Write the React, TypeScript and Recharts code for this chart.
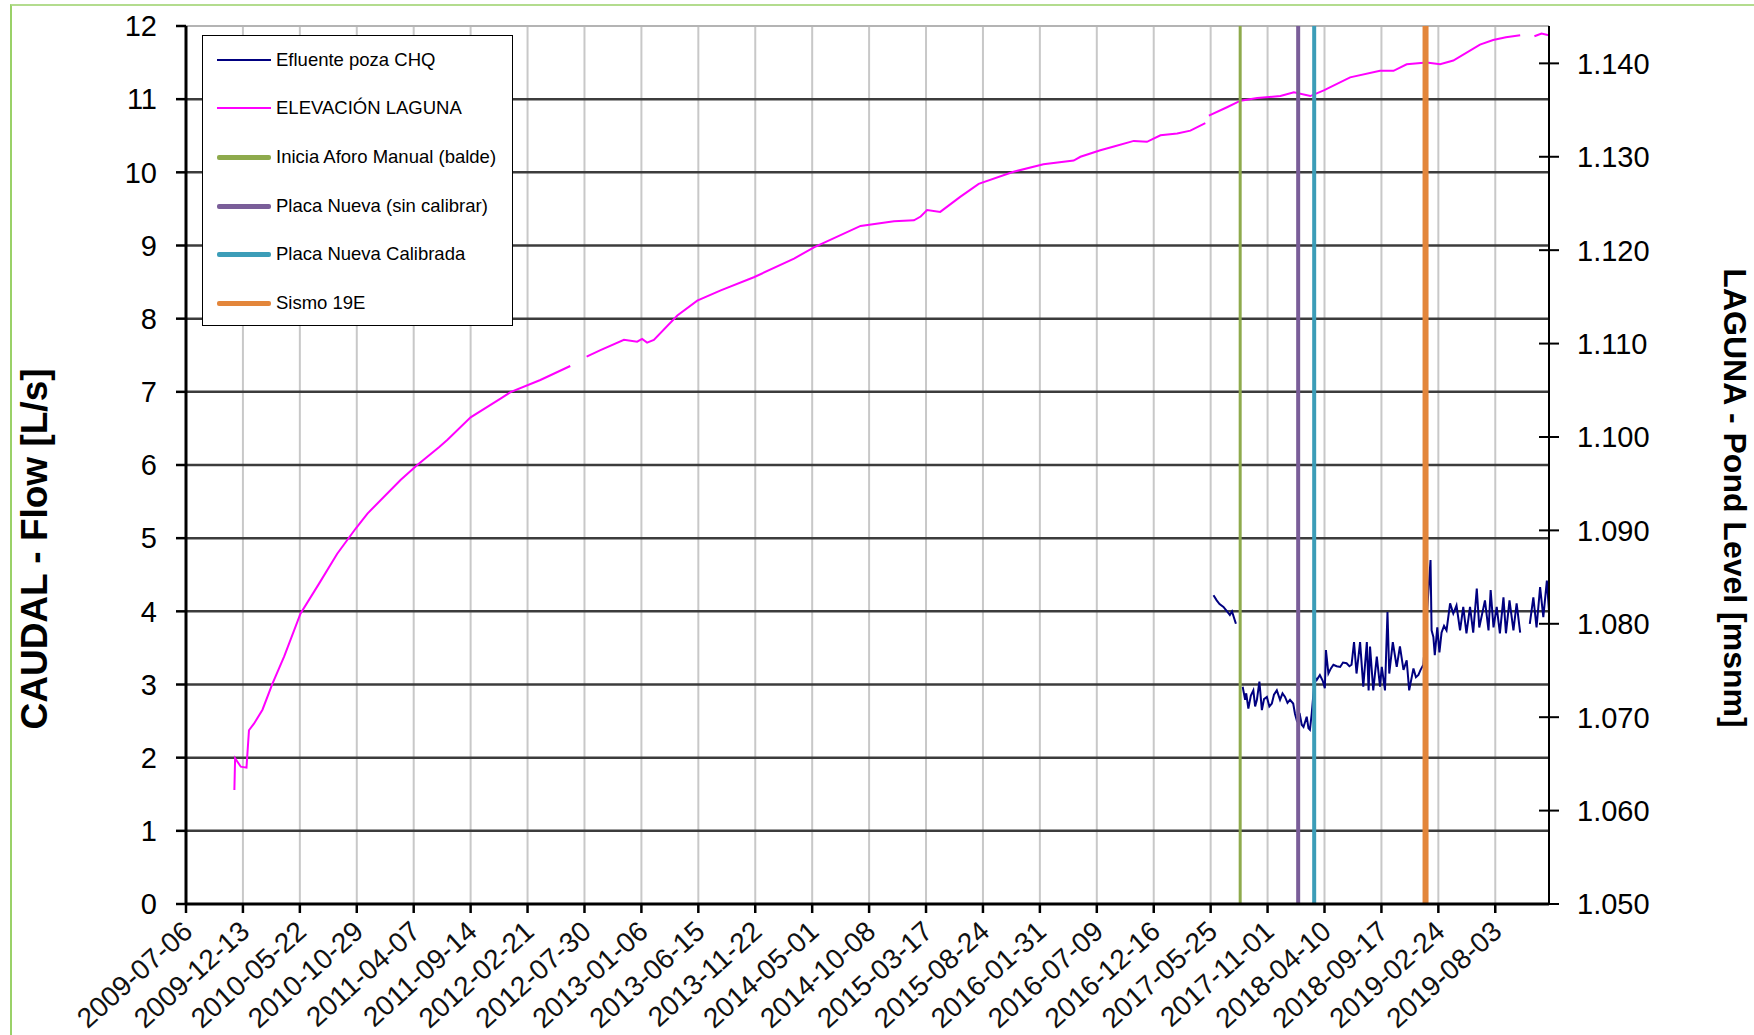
import React from "react";
import { LineChart, Line, XAxis, YAxis, CartesianGrid, ReferenceLine } from "recharts";

// x values are Excel date serials (40000 = 2009-07-06)
const X_TICKS = Array.from({ length: 24 }, (_, i) => 40000 + i * 160);
const FLOW_TICKS = [0, 1, 2, 3, 4, 5, 6, 7, 8, 9, 10, 11, 12];
const LEVEL_TICKS = [1050, 1060, 1070, 1080, 1090, 1100, 1110, 1120, 1130, 1140];

// ELEVACIÓN LAGUNA [msnm]
const levelDay = [
  40136, 40138, 40154, 40170, 40177, 40191, 40215, 40243, 40276, 40322, 40374, 40425, 40477, 40510,
  40603, 40650, 40711, 40735, 40800, 40884, 40912, 40996, 41080, 41100, 41126, 41165, 41231, 41268,
  41282, 41296, 41315, 41381, 41437, 41503, 41596, 41709, 41765, 41896, 41990, 42046, 42065, 42083,
  42120, 42176, 42228, 42326, 42410, 42495, 42514, 42570, 42608, 42664, 42701, 42739, 42786, 42823,
  42865, 42870, 42875, 42926, 42964, 43011, 43076, 43114, 43160, 43198, 43272, 43356, 43394, 43431,
  43487, 43525, 43562, 43637, 43674, 43710, 43750, 43770, 43790, 43810, 43831,
];
const levelMsnm = [
  1062.2, 1065.6, 1064.7, 1064.6, 1068.6, 1069.3, 1070.8, 1073.6, 1076.5, 1081.1, 1084.3, 1087.5, 1090.2, 1091.8,
  1095.4, 1097.0, 1098.9, 1099.7, 1102.1, 1104.1, 1104.8, 1106.1, 1107.6, null, 1108.6, 1109.3, 1110.4, 1110.2,
  1110.5, 1110.1, 1110.4, 1113.0, 1114.6, 1115.7, 1117.1, 1119.1, 1120.3, 1122.6, 1123.1, 1123.2, 1123.6, 1124.3,
  1124.1, 1125.7, 1127.1, 1128.4, 1129.2, 1129.6, 1130.0, 1130.7, 1131.1, 1131.7, 1131.6, 1132.3, 1132.5, 1132.8,
  1133.6, null, 1134.4, 1135.3, 1136.0, 1136.3, 1136.5, 1136.9, 1136.5, 1137.1, 1138.5, 1139.2, 1139.2, 1139.9,
  1140.1, 1139.9, 1140.3, 1142.0, 1142.5, 1142.8, 1143.0, null, 1142.9, 1143.2, 1143.0,
];

// Efluente poza CHQ [L/s]
const flowDay = [
  42888, 42897, 42905, 42916, 42934, 42940, 42951, 42960,
  42970, 42977, 42980, 42986, 42993, 43000, 43005, 43010, 43017, 43024, 43030, 43038, 43045, 43052, 43058,
  43066, 43075, 43082, 43089, 43096, 43103, 43112, 43117, 43122, 43131, 43136, 43141, 43150, 43155, 43159,
  43164, 43173, 43178, 43187, 43195, 43201, 43204, 43211, 43218, 43225, 43234, 43244, 43252, 43262, 43270,
  43276, 43283, 43290, 43300, 43309, 43319, 43324, 43328, 43337, 43347, 43356, 43361, 43370, 43377, 43382,
  43392, 43403, 43412, 43422, 43431, 43438, 43450, 43457, 43464, 43470, 43478, 43498, 43501, 43506, 43510,
  43517, 43523, 43529, 43536, 43543, 43553, 43562, 43571, 43581, 43590, 43599, 43609, 43618, 43628, 43635,
  43645, 43651, 43661, 43667, 43675, 43684, 43693, 43703, 43710, 43720, 43731, 43740, 43750, 43765, 43777,
  43787, 43796, 43806, 43815, 43825, 43831,
];
const flowLps = [
  4.22, 4.15, 4.1, 4.06, 3.95, 4.0, 3.83, null,
  2.97, 2.79, 2.88, 2.67, 2.85, 2.92, 2.7, 2.79, 3.04, 2.65, 2.8, 2.83, 2.7, 2.74, 2.86,
  2.92, 2.79, 2.88, 2.83, 2.75, 2.79, 2.74, 2.6, 2.51, 2.58, 2.45, 2.42, 2.56, 2.4, 2.38,
  2.6, 3.1, 3.06, 3.13, 3.05, 2.95, 3.47, 3.15, 3.22, 3.27, 3.25, 3.24, 3.3, 3.29, 3.25,
  3.27, 3.58, 3.15, 3.58, 2.97, 3.58, 2.92, 3.52, 2.92, 3.38, 2.97, 3.24, 2.92, 3.99, 3.15,
  3.58, 3.24, 3.52, 3.2, 3.33, 2.92, 3.22, 3.1, 3.13, 3.2, 3.27, 4.7, 3.74, 3.65, 3.4,
  3.78, 3.44, 3.71, 3.8, 3.74, 4.11, 3.97, 4.08, 3.74, 4.06, 3.7, 4.06, 3.71, 4.31, 3.78,
  4.01, 4.15, 3.74, 4.29, 3.78, 4.06, 3.7, 4.19, 3.7, 4.15, 3.74, 4.11, 3.71, null, 3.83,
  4.19, 3.78, 4.33, 3.92, 4.42, 4.01,
];

// event markers (vertical lines)
const events = [
  { name: "Inicia Aforo Manual (balde)", day: 42963, color: "#8EAA4C", width: 3 },
  { name: "Placa Nueva (sin calibrar)", day: 43126, color: "#7A5E99", width: 4 },
  { name: "Placa Nueva Calibrada", day: 43171, color: "#3C9DB8", width: 4 },
  { name: "Sismo 19E", day: 43484, color: "#E3863B", width: 6 },
];

const levelData = levelDay.map((t, i) => ({ t, level: levelMsnm[i] }));
const flowData = flowDay.map((t, i) => ({ t, flow: flowLps[i] }));

const FONT = '"Liberation Sans", Arial, sans-serif';
const W = 1754;
const H = 1035;
const PLOT_RIGHT = 1549;

function fmtDate(serial: number) {
  const ms = Date.UTC(1899, 11, 30) + serial * 86400000;
  return new Date(ms).toISOString().slice(0, 10);
}

function fmtLevel(v: number) {
  return Math.floor(v / 1000) + "." + String(v % 1000).padStart(3, "0");
}

const DateTick = (props: any) => {
  const { x, y, payload } = props;
  return (
    <g transform={`translate(${x - 5},${y + 4})`}>
      <text textAnchor="end" transform="rotate(-42)" dy="0.71em" fontSize={28} fill="#111" fontFamily={FONT}>
        {fmtDate(payload.value)}
      </text>
    </g>
  );
};

const LevelTick = (props: any) => {
  const { x, y, payload } = props;
  return (
    <g>
      <line x1={PLOT_RIGHT - 10} x2={PLOT_RIGHT + 10} y1={y} y2={y} stroke="#000" strokeWidth={2} />
      <text x={x} y={y} dy="0.36em" textAnchor="start" fontSize={29} fill="#000" fontFamily={FONT}>
        {fmtLevel(payload.value)}
      </text>
    </g>
  );
};

const legendItems = [
  { name: "Efluente poza CHQ", color: "#000080", width: 2 },
  { name: "ELEVACIÓN LAGUNA", color: "#FF00FF", width: 2 },
  ...events.map(e => ({ name: e.name, color: e.color, width: 5 })),
];

const App: React.FC = () => {
  return (
    <div style={{ position: "absolute", left: 0, top: 0, width: W, height: H, overflow: "hidden", background: "#fff", fontFamily: FONT }}>
      <div style={{ position: "absolute", left: 10, top: 4, width: W - 10, height: H - 4, borderTop: "2px solid #b3dc8e", borderLeft: "2px solid #9ad168", boxSizing: "border-box" }} />
      <div style={{ position: "absolute", left: 0, top: 0 }}>
        <LineChart width={W} height={H} margin={{ top: 26, right: 0, bottom: 0, left: 0 }}>
          <CartesianGrid yAxisId="left" horizontal={false} stroke="#c8c8c8" strokeWidth={2} />
          <CartesianGrid yAxisId="left" vertical={false} horizontalValues={[1, 2, 3, 4, 5, 6, 7, 8, 9, 10, 11]} stroke="#3c3c3c" strokeWidth={2.5} />
          <XAxis
            dataKey="t"
            type="number"
            domain={[40000, 43831]}
            ticks={X_TICKS}
            interval={0}
            allowDataOverflow
            height={131}
            tickSize={9}
            axisLine={{ stroke: "#000", strokeWidth: 3 }}
            tickLine={{ stroke: "#000", strokeWidth: 2.5 }}
            tick={<DateTick />}
          />
          <YAxis
            yAxisId="left"
            domain={[0, 12]}
            ticks={FLOW_TICKS}
            interval={0}
            width={186}
            tickSize={10}
            tickMargin={19}
            axisLine={{ stroke: "#000", strokeWidth: 3 }}
            tickLine={{ stroke: "#000", strokeWidth: 2.5 }}
            tick={{ fill: "#000", fontSize: 29, fontFamily: FONT }}
          />
          <YAxis
            yAxisId="right"
            orientation="right"
            domain={[1050, 1144]}
            ticks={LEVEL_TICKS}
            interval={0}
            allowDataOverflow
            width={205}
            tickSize={10}
            tickMargin={18}
            tickLine={false}
            axisLine={{ stroke: "#000", strokeWidth: 2 }}
            tick={<LevelTick />}
          />
          <ReferenceLine yAxisId="left" y={12} stroke="#b4b4b4" strokeWidth={2} />
          <Line
            yAxisId="right"
            data={levelData}
            dataKey="level"
            type="linear"
            stroke="#FF00FF"
            strokeWidth={2}
            dot={false}
            isAnimationActive={false}
          />
          <Line
            yAxisId="left"
            data={flowData}
            dataKey="flow"
            type="linear"
            stroke="#000080"
            strokeWidth={2}
            dot={false}
            isAnimationActive={false}
          />
          {events.map(e => (
            <ReferenceLine key={e.name} yAxisId="left" x={e.day} stroke={e.color} strokeWidth={e.width} />
          ))}
        </LineChart>
      </div>

      {/* legend box */}
      <div style={{ position: "absolute", left: 202, top: 35, width: 311, height: 291, border: "1.5px solid #000", background: "#fff", boxSizing: "border-box" }}>
        {legendItems.map((it, i) => {
          const cy = [24, 72, 121, 170, 218, 267][i];
          return (
            <div key={it.name} style={{ position: "absolute", left: 14, top: cy - 12, height: 24, display: "flex", alignItems: "center" }}>
              <div style={{ width: 54, height: it.width, background: it.color, borderRadius: it.width > 2 ? 2 : 0 }} />
              <span style={{ marginLeft: 5, fontSize: 18.5, color: "#000", whiteSpace: "nowrap" }}>{it.name}</span>
            </div>
          );
        })}
      </div>

      {/* axis titles */}
      <div style={{ position: "absolute", left: 35, top: 549, transform: "translate(-50%, -50%) rotate(-90deg)", fontSize: 37, fontWeight: "bold", whiteSpace: "nowrap", color: "#000" }}>
        CAUDAL - Flow [L/s]
      </div>
      <div style={{ position: "absolute", left: 1734, top: 498, transform: "translate(-50%, -50%) rotate(90deg)", fontSize: 32, fontWeight: "bold", whiteSpace: "nowrap", color: "#000" }}>
        LAGUNA - Pond Level [msnm]
      </div>
    </div>
  );
};

export default App;
